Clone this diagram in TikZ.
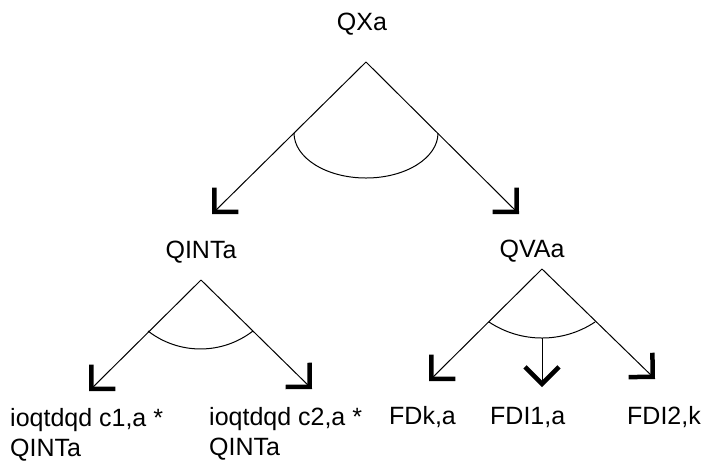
\documentclass[tikz,border=0pt]{standalone}
\usepackage{fontspec}
\setmainfont{Liberation Sans}
\usetikzlibrary{arrows.meta}
\begin{document}
\begin{tikzpicture}[x=1pt,y=-1pt,
  conn/.style={line width=1pt, -{Straight Barb[length=17pt,width=34pt,line width=4.5pt]}},
  angarc/.style={line width=1pt},
  lbl/.style={font=\fontsize{25}{30}\selectfont, inner sep=0pt, anchor=base},
  leaf/.style={lbl, anchor=base west, align=left}]
\useasboundingbox (0,0) rectangle (703,475);
% labels
\node[lbl] (qxa) at (362,30) {QXa};
\node[lbl] (qinta) at (201,258) {QINTa};
\node[lbl] (qvaa) at (532,257) {QVAa};
\node[leaf] (c1) at (10,456) {ioqtdqd c1,a *\\QINTa};
\node[leaf] (c2) at (209,455) {ioqtdqd c2,a *\\QINTa};
\node[leaf] (fdk) at (389,424) {FDk,a};
\node[leaf] (fdi1) at (490,424) {FDI1,a};
\node[leaf] (fdi2) at (627,424) {FDI2,k};
% apexes and tips
\coordinate (A) at (366,62);
\coordinate (L1) at (212,214);
\coordinate (R1) at (519,214);
\coordinate (B) at (201,280);
\coordinate (L2) at (89,391);
\coordinate (R2) at (312,389);
\coordinate (C) at (542,269);
\coordinate (L3) at (429,381);
\coordinate (R3) at (655,379);
\coordinate (M3) at (542,387);
\coordinate (m) at (542,338);
% connectors
\draw[conn] (A) -- (L1);
\draw[conn] (A) -- (R1);
\draw[conn] (B) -- (L2);
\draw[conn] (B) -- (R2);
\draw[conn] (C) -- (L3);
\draw[conn] (C) -- (R3);
\draw[conn] (m) -- (M3);
% and-arcs
\draw[angarc] (294,133) arc[start angle=180,end angle=360,x radius=72pt,y radius=45pt];
\draw[angarc] (148,331) arc[start angle=232.2,end angle=307.8,radius=85.6pt];
\draw[angarc] (489,322) arc[start angle=236.4,end angle=303.6,radius=95.8pt];
\end{tikzpicture}
\end{document}
